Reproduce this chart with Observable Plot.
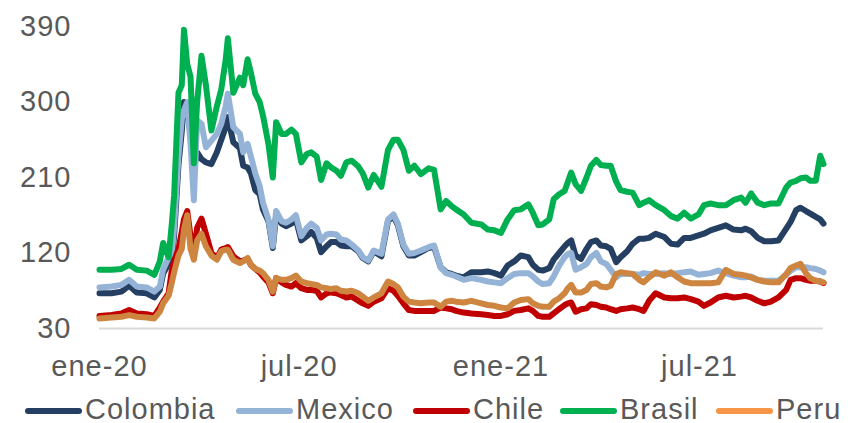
<!DOCTYPE html>
<html>
<head>
<meta charset="utf-8">
<script src="https://cdn.jsdelivr.net/npm/d3@7"></script>
<script src="https://cdn.jsdelivr.net/npm/@observablehq/plot@0.6"></script>
<style>
  html, body { margin: 0; padding: 0; background: #fff; overflow: hidden; }
  body { width: 852px; height: 423px; font-family: "Liberation Sans", Arial, sans-serif; }
  #legend { position: relative; height: 38px; }
  .item { position: absolute; top: 9px; display: flex; align-items: center; height: 30px;
          font-size: 29px; letter-spacing: 1px; color: #595959; white-space: nowrap; }
  .sw { width: 57px; height: 6px; border-radius: 3px; margin-right: 3px; margin-top: 3px; }
</style>
</head>
<body>
<div id="chart"></div>
<div id="legend"></div>
<script>
// Sovereign CDS spreads (bps), Jan 2020 – Oct 2021
const dates = [
  "2020-01-01","2020-01-12","2020-01-21","2020-01-28","2020-02-04","2020-02-13","2020-02-20","2020-02-25","2020-02-28","2020-03-04",
  "2020-03-07","2020-03-09","2020-03-13","2020-03-16","2020-03-18","2020-03-21","2020-03-24","2020-03-27","2020-03-30","2020-04-03",
  "2020-04-07","2020-04-12","2020-04-17","2020-04-21","2020-04-25","2020-04-27","2020-05-02","2020-05-08","2020-05-11","2020-05-15",
  "2020-05-18","2020-05-22","2020-05-26","2020-05-29","2020-06-03","2020-06-07","2020-06-10","2020-06-15","2020-06-19","2020-06-24",
  "2020-06-28","2020-07-03","2020-07-08","2020-07-12","2020-07-17","2020-07-21","2020-07-26","2020-07-30","2020-08-04","2020-08-08",
  "2020-08-13","2020-08-18","2020-08-24","2020-08-28","2020-09-02","2020-09-07","2020-09-14","2020-09-20","2020-09-25","2020-09-29",
  "2020-10-04","2020-10-09","2020-10-14","2020-10-20","2020-10-27","2020-11-01","2020-11-07","2020-11-12","2020-11-17","2020-11-21",
  "2020-11-28","2020-12-05","2020-12-14","2020-12-20","2020-12-26","2021-01-01","2021-01-07","2021-01-13","2021-01-19","2021-01-26",
  "2021-01-30","2021-02-04","2021-02-08","2021-02-14","2021-02-18","2021-02-23","2021-02-28","2021-03-03","2021-03-06","2021-03-10",
  "2021-03-15","2021-03-20","2021-03-24","2021-03-29","2021-04-02","2021-04-07","2021-04-11","2021-04-16","2021-04-20","2021-04-26",
  "2021-05-01","2021-05-07","2021-05-11","2021-05-16","2021-05-22","2021-05-30","2021-06-05","2021-06-11","2021-06-17","2021-06-23",
  "2021-06-30","2021-07-05","2021-07-11","2021-07-18","2021-07-25","2021-08-01","2021-08-08","2021-08-12","2021-08-17","2021-08-23",
  "2021-08-29","2021-09-04","2021-09-11","2021-09-18","2021-09-22","2021-09-27","2021-10-01","2021-10-06","2021-10-10","2021-10-15",
  "2021-10-19","2021-10-22"
];

const colombia = [
  72,72,74,81,73,72,67,76,95,108,
  115,140,225,265,300,295,260,220,240,232,
  228,226,240,255,270,282,252,245,224,222,
  215,195,190,172,158,126,165,155,152,155,
  160,135,140,145,138,121,128,133,133,129,
  128,128,122,114,110,122,116,158,164,153,
  128,117,117,121,126,127,103,97,95,93,
  91,97,97,98,96,93,105,110,117,115,
  106,100,99,102,112,120,128,132,135,117,
  113,125,133,135,129,128,125,109,115,122,
  131,137,137,138,143,139,131,130,138,138,
  141,143,147,150,153,148,147,149,146,138,
  134,134,135,149,157,171,174,170,167,163,
  160,155
];

const mexico = [
  79,80,82,88,80,79,74,80,100,115,
  120,150,236,279,290,300,250,183,278,274,
  246,254,262,274,295,310,270,262,240,250,
  235,215,200,180,160,128,170,158,156,160,
  165,140,150,155,150,135,142,143,142,136,
  135,130,123,115,111,123,119,160,166,155,
  130,119,120,123,127,129,103,96,94,92,
  88,90,88,86,85,84,90,95,96,96,
  92,86,83,84,92,105,115,119,120,100,
  103,107,115,120,110,107,100,91,95,95,
  95,94,96,95,95,96,95,96,97,98,
  94,95,96,99,96,93,91,91,92,88,
  87,87,87,94,99,103,103,103,102,101,
  99,97
];

const chile = [
  45,46,48,52,48,47,45,55,62,72,
  100,110,125,145,160,170,140,120,150,161,
  143,120,114,124,126,127,116,110,111,113,
  106,101,97,92,85,72,90,85,82,80,
  84,78,76,76,75,67,72,73,72,70,
  67,68,63,60,57,62,66,78,75,69,
  60,52,51,51,51,51,55,54,53,51,
  49,48,47,46,45,45,47,51,52,54,
  51,45,44,44,48,53,58,60,61,50,
  53,54,59,58,56,55,53,51,53,54,
  55,53,51,63,72,67,66,66,67,65,
  62,57,61,67,69,67,68,69,67,63,
  60,62,67,76,88,90,90,88,87,87,
  86,84
];

const brasil = [
  100,100,101,106,100,99,94,110,132,115,
  156,188,311,320,386,345,330,227,300,355,
  320,266,295,315,350,376,311,329,320,351,
  335,310,300,284,250,210,276,262,262,267,
  262,228,238,240,235,207,227,222,218,212,
  228,230,223,215,198,213,199,243,255,255,
  243,218,224,214,221,219,172,182,176,172,
  166,156,154,148,147,144,160,171,172,178,
  168,153,154,160,184,190,194,205,216,202,
  194,210,224,231,225,224,224,205,195,193,
  192,177,180,183,177,171,164,161,168,161,
  166,177,179,177,177,183,186,180,191,180,
  177,179,179,198,204,206,209,210,206,206,
  236,226
];

const peru = [
  42,43,44,46,44,43,42,50,60,69,
  85,97,117,125,148,165,125,112,135,143,
  128,117,112,122,124,124,112,108,110,114,
  106,101,99,96,88,74,90,88,88,90,
  93,86,84,83,82,79,78,77,78,75,
  74,75,72,68,63,67,72,86,83,79,
  68,62,61,60,61,61,56,62,63,62,
  61,63,60,58,57,55,54,61,64,65,
  60,57,56,56,62,66,72,78,82,73,
  73,76,83,84,80,79,81,95,97,96,
  95,88,85,91,97,93,97,91,86,84,
  84,84,84,85,100,95,94,93,91,88,
  86,85,85,95,102,105,107,96,90,87,
  86,85
];

const seriesNames = ["Colombia", "Mexico", "Chile", "Brasil", "Peru"];
const seriesValues = [colombia, mexico, chile, brasil, peru];
const seriesColors = ["#243F62", "#95B3D7", "#C00000", "#00B050", "#F79646"];

const yTicks = [30, 120, 210, 300, 390];
const xTickDates = ["2020-01-01", "2020-07-01", "2021-01-01", "2021-07-01"];
const xTickLabels = ["ene-20", "jul-20", "ene-21", "jul-21"];

// legend placement (left edge of each swatch, px)
const legendLeft = [25, 236, 413, 560, 716];

const parse = s => new Date(s + "T00:00:00Z");

const table = seriesNames.map((name, k) =>
  seriesValues[k].map((v, i) => ({date: parse(dates[i]), name, value: v}))
);

const tickTimes = xTickDates.map(parse);

const chart = Plot.plot({
  width: 852,
  height: 385,
  marginLeft: 99,
  marginRight: 29,
  marginTop: 26,
  marginBottom: 57,
  style: {
    fontFamily: "'Liberation Sans', Arial, sans-serif",
    fontSize: "29px",
    letterSpacing: "1px",
    color: "#595959",
    background: "#fff",
    overflow: "visible"
  },
  x: {
    type: "utc",
    domain: [parse(dates[0]), parse(dates[dates.length - 1])],
    ticks: tickTimes,
    tickFormat: d => xTickLabels[tickTimes.findIndex(t => +t === +d)],
    tickSize: 0,
    tickPadding: 27,
    label: null
  },
  y: {
    domain: [30, 390],
    ticks: yTicks,
    tickSize: 0,
    tickPadding: 28,
    label: null
  },
  color: {domain: seriesNames, range: seriesColors},
  marks: [
    Plot.ruleY([30], {stroke: "#D9D9D9", strokeWidth: 2}),
    ...table.map(rows => Plot.line(rows, {
      x: "date",
      y: "value",
      stroke: "name",
      strokeWidth: 6,
      strokeLinejoin: "round",
      strokeLinecap: "round"
    }))
  ]
});

document.getElementById("chart").appendChild(chart);

const legend = document.getElementById("legend");
seriesNames.forEach((name, k) => {
  const item = document.createElement("div");
  item.className = "item";
  item.style.left = legendLeft[k] + "px";
  const sw = document.createElement("div");
  sw.className = "sw";
  sw.style.background = seriesColors[k];
  const label = document.createElement("span");
  label.textContent = name;
  item.appendChild(sw);
  item.appendChild(label);
  legend.appendChild(item);
});
</script>
</body>
</html>
